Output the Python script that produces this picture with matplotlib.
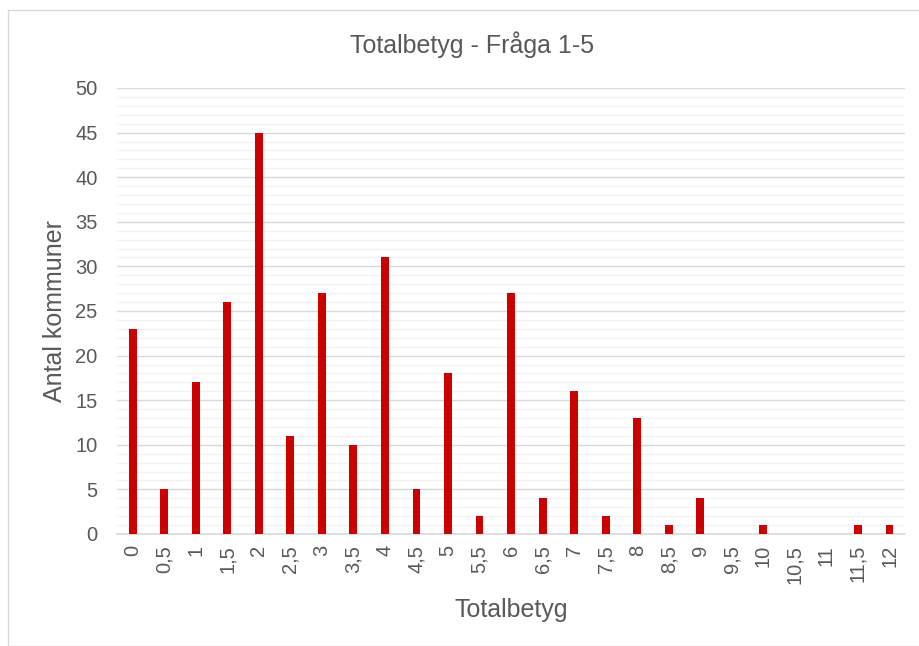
import numpy as np
import matplotlib
matplotlib.use('Agg')
import matplotlib.pyplot as plt
from matplotlib.patches import Rectangle

# Data
betyg = ['0', '0,5', '1', '1,5', '2', '2,5', '3', '3,5', '4', '4,5', '5', '5,5', '6',
         '6,5', '7', '7,5', '8', '8,5', '9', '9,5', '10', '10,5', '11', '11,5', '12']
antal = [23, 5, 17, 26, 45, 11, 27, 10, 31, 5, 18, 2, 27, 4, 16, 2, 13, 1, 4, 0, 1, 0, 0, 1, 1]

plt.rcParams['font.family'] = ['Liberation Sans', 'DejaVu Sans']
TXT = '#595959'

fig = plt.figure(figsize=(9.2, 6.46), dpi=100)
ax = fig.add_axes([0.127, 0.1734, 0.857, 0.6904])

# chart area border
fig.patches.append(Rectangle((8/920, 0), 1.0, 1 - 10/646, transform=fig.transFigure,
                             fill=False, edgecolor='#d9d9d9', linewidth=1.0))

x = np.arange(len(betyg))
ax.bar(x, antal, width=0.25, color='#CC0000', zorder=3)

ax.set_xlim(-0.5, len(betyg) - 0.5)
ax.set_ylim(0, 50)
ax.set_yticks(np.arange(0, 51, 5))
ax.set_yticks(np.arange(0, 51, 1), minor=True)
ax.grid(axis='y', which='major', color='#d9d9d9', linewidth=1.0, zorder=0)
ax.grid(axis='y', which='minor', color='#f2f2f2', linewidth=1.0, zorder=0)

ax.set_xticks(x)
ax.set_xticklabels(betyg, rotation=90, ha='center', va='top')
ax.tick_params(axis='both', which='both', length=0, labelsize=14.5, colors=TXT)
ax.tick_params(axis='x', pad=8)
ax.tick_params(axis='y', pad=14)

for s in ['top', 'right', 'left']:
    ax.spines[s].set_visible(False)
ax.spines['bottom'].set_color('#d9d9d9')
ax.spines['bottom'].set_linewidth(1.2)

# title centred on the chart area, not the plot
fig.text(472/920, 1 - 45/646, 'Totalbetyg - Fråga 1-5', fontsize=18, color=TXT,
         ha='center', va='center')
ax.set_xlabel('Totalbetyg', fontsize=18, color=TXT, labelpad=10)
ax.set_ylabel('Antal kommuner', fontsize=18, color=TXT, labelpad=6)

plt.savefig('out.png', dpi=100)
plt.close()
